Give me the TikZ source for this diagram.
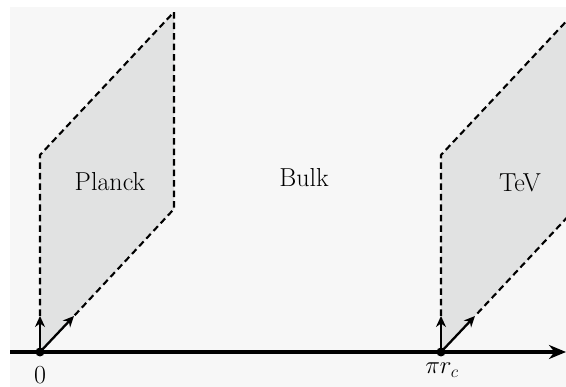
\documentclass[tikz,border=0pt]{standalone}
\usetikzlibrary{arrows.meta}
\definecolor{bgc}{HTML}{F7F7F7}
\definecolor{branec}{HTML}{E1E2E2}
\tikzset{
  brane/.style={fill=branec,draw=none},
  edge/.style={draw=black,line width=2.1pt,dash pattern=on 6.5pt off 4pt},
  axis/.style={draw=black,line width=3.2pt,-{Stealth[length=17pt,width=14pt]}},
  vec/.style={draw=black,line width=2.3pt,-{Stealth[length=11pt,width=10pt]}},
  lab/.style={font=\fontsize{26}{30}\selectfont,inner sep=0pt},
}
\begin{document}
\begin{tikzpicture}[x=1pt,y=-1pt]
\useasboundingbox (0,0) rectangle (566,387);
\fill[white] (0,0) rectangle (566,387);
\fill[bgc] (10,7) rectangle (566,387);
\begin{scope}
\clip (10,7) rectangle (566,387);
% Planck brane
\coordinate (P0) at (40,352);
\coordinate (P1) at (40,155);
\coordinate (P2) at (174,12);
\coordinate (P3) at (174,209);
\coordinate (Pv) at (40,316);
\coordinate (Pd) at (74,316);
\fill[brane] (P0) -- (P1) -- (P2) -- (P3) -- cycle;
\draw[edge] (Pv) -- (P1) -- (P2) -- (P3) -- (Pd);
% TeV brane
\coordinate (T0) at (441,352);
\coordinate (T1) at (441,155);
\coordinate (T2) at (575,12);
\coordinate (T3) at (575,209);
\coordinate (Tv) at (441,316);
\coordinate (Td) at (475,316);
\fill[brane] (T0) -- (T1) -- (T2) -- (T3) -- cycle;
\draw[edge] (Tv) -- (T1) -- (T2);
\draw[edge] (T3) -- (Td);
\end{scope}
% axis
\coordinate (A0) at (10,352);
\coordinate (A1) at (566,352);
\draw[axis] (A0) -- (A1);
% vectors
\draw[vec] (P0) -- (Pv);
\draw[vec] (P0) -- (Pd);
\draw[vec] (T0) -- (Tv);
\draw[vec] (T0) -- (Td);
\fill (P0) circle (4.5pt);
\fill (T0) circle (4.5pt);
% labels
\node[lab] (l0) at (40,375) {0};
\node[lab] (lpi) at (442,370) {$\pi r_c$};
\node[lab] (lpl) at (110,182) {Planck};
\node[lab] (lbk) at (304,178) {Bulk};
\node[lab] (ltv) at (520,183) {TeV};
\end{tikzpicture}
\end{document}
